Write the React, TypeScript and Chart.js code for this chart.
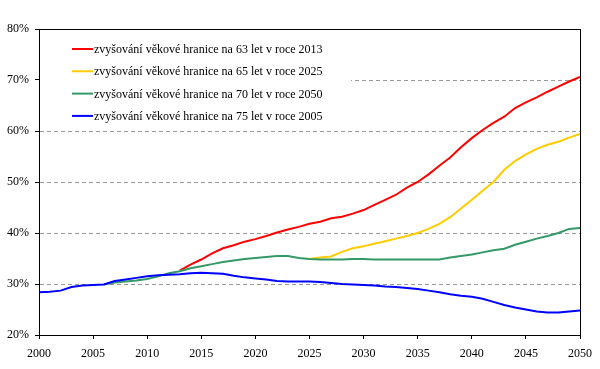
import React, { useEffect, useRef } from "react";
import { Chart, registerables } from "chart.js";

Chart.register(...registerables);

const years = [
  2000, 2001, 2002, 2003, 2004, 2005, 2006, 2007, 2008, 2009,
  2010, 2011, 2012, 2013, 2014, 2015, 2016, 2017, 2018, 2019,
  2020, 2021, 2022, 2023, 2024, 2025, 2026, 2027, 2028, 2029,
  2030, 2031, 2032, 2033, 2034, 2035, 2036, 2037, 2038, 2039,
  2040, 2041, 2042, 2043, 2044, 2045, 2046, 2047, 2048, 2049, 2050,
];

const seriesNames = [
  "zvyšování věkové hranice na 63 let v roce 2013",
  "zvyšování věkové hranice na 65 let v roce 2025",
  "zvyšování věkové hranice na 70 let v roce 2050",
  "zvyšování věkové hranice na 75 let v roce 2005",
];

const seriesColors = ["#FF0000", "#FFCC00", "#339966", "#0000FF"];

// red: age 63 by 2013 (starts 2013)
const red = [
  null, null, null, null, null, null, null, null, null, null,
  null, null, null, 32.6, 33.8, 34.8, 36.0, 37.0, 37.6, 38.3,
  38.8, 39.4, 40.1, 40.7, 41.2, 41.8, 42.2, 42.9, 43.2, 43.8,
  44.5, 45.5, 46.5, 47.5, 48.9, 50.0, 51.5, 53.2, 54.8, 56.8,
  58.6, 60.2, 61.6, 62.8, 64.5, 65.6, 66.6, 67.7, 68.7, 69.7, 70.6,
];

// yellow: age 65 by 2025 (starts 2025)
const yellow = [
  null, null, null, null, null, null, null, null, null, null,
  null, null, null, null, null, null, null, null, null, null,
  null, null, null, null, null, 34.9, 35.2, 35.4, 36.3, 37.0,
  37.4, 37.9, 38.4, 38.9, 39.4, 40.0, 40.8, 41.8, 43.1, 44.8,
  46.5, 48.3, 50.0, 52.4, 54.1, 55.4, 56.5, 57.3, 57.9, 58.7, 59.4,
];

// green: age 70 by 2050 (starts 2006)
const green = [
  null, null, null, null, null, null, 29.9, 30.3, 30.5, 30.7,
  31.0, 31.5, 32.1, 32.5, 33.1, 33.5, 33.9, 34.3, 34.6, 34.9,
  35.1, 35.3, 35.5, 35.5, 35.1, 34.9, 34.8, 34.8, 34.8, 34.9,
  34.9, 34.8, 34.8, 34.8, 34.8, 34.8, 34.8, 34.8, 35.2, 35.5,
  35.8, 36.2, 36.6, 36.9, 37.7, 38.3, 38.9, 39.4, 40.0, 40.8, 41.0,
];

// blue: age 75 by 2005
const blue = [
  28.4, 28.5, 28.7, 29.4, 29.7, 29.8, 29.9, 30.6, 30.9, 31.2,
  31.5, 31.7, 31.8, 31.9, 32.1, 32.2, 32.1, 32.0, 31.6, 31.3,
  31.1, 30.9, 30.6, 30.5, 30.5, 30.5, 30.4, 30.2, 30.0, 29.9,
  29.8, 29.7, 29.5, 29.4, 29.2, 29.0, 28.7, 28.4, 28.0, 27.7,
  27.5, 27.1, 26.5, 25.9, 25.4, 25.0, 24.6, 24.4, 24.4, 24.6, 24.8,
];

const seriesValues = [red, yellow, green, blue];

const yGridValues = [30, 40, 50, 60, 70];

const FONT = "'Liberation Serif', 'Times New Roman', serif";

const legendPlugin = {
  id: "customLegendFrame",
  beforeDatasetsDraw(chart: any) {
    const ctx = chart.ctx;
    const a = chart.chartArea;
    const ys = chart.scales.y;
    ctx.save();
    // dashed gridlines
    ctx.strokeStyle = "#999999";
    ctx.lineWidth = 1;
    ctx.setLineDash([4, 3]);
    for (const v of yGridValues) {
      const py = Math.round(ys.getPixelForValue(v)) + 0.5;
      ctx.beginPath();
      ctx.moveTo(a.left + 1, py);
      ctx.lineTo(a.right, py);
      ctx.stroke();
    }
    ctx.setLineDash([]);
    // legend background
    ctx.fillStyle = "#FFFFFF";
    ctx.fillRect(a.left + 1, a.top + 1, 311, 96);
    ctx.restore();
  },
  afterDraw(chart: any) {
    const ctx = chart.ctx;
    const a = chart.chartArea;
    ctx.save();
    // frame
    ctx.strokeStyle = "#000000";
    ctx.lineWidth = 1;
    ctx.setLineDash([]);
    ctx.strokeRect(
      Math.round(a.left) + 0.5,
      Math.round(a.top) + 0.5,
      Math.round(a.right - a.left),
      Math.round(a.bottom - a.top)
    );
    // legend
    const rowY = [49, 71.3, 93.6, 115.9];
    ctx.font = "12px " + FONT;
    ctx.textBaseline = "middle";
    ctx.textAlign = "left";
    for (let i = 0; i < seriesNames.length; i++) {
      const y = rowY[i];
      ctx.strokeStyle = seriesColors[i];
      ctx.lineWidth = 2;
      ctx.beginPath();
      ctx.moveTo(72, y);
      ctx.lineTo(93, y);
      ctx.stroke();
      ctx.fillStyle = "#000000";
      ctx.fillText(seriesNames[i], 94, y + 1);
    }
    ctx.restore();
  },
};

export default function App() {
  const ref = useRef<HTMLCanvasElement | null>(null);

  useEffect(() => {
    if (!ref.current) return;
    const datasets = seriesValues.map((vals, i) => ({
      label: seriesNames[i],
      data: years.map((yr, j) => ({ x: yr, y: vals[j] })),
      borderColor: seriesColors[i],
      backgroundColor: seriesColors[i],
      borderWidth: 2,
      pointRadius: 0,
      tension: 0,
      fill: false,
      spanGaps: false,
      order: 3 - i,
    }));
    const chart = new Chart(ref.current, {
      type: "line",
      data: { datasets },
      options: {
        animation: false,
        responsive: false,
        maintainAspectRatio: false,
        layout: { padding: { top: 29, right: 17, left: 0, bottom: 0 } },
        plugins: {
          legend: { display: false },
          tooltip: { enabled: false },
        },
        scales: {
          x: {
            type: "linear",
            min: 2000,
            max: 2050,
            afterFit: (scale: any) => {
              scale.height = 34;
            },
            ticks: {
              stepSize: 5,
              autoSkip: false,
              maxRotation: 0,
              padding: 8,
              color: "#000000",
              font: { family: FONT, size: 12 },
              callback: (v: any) => String(v),
            },
            grid: {
              drawOnChartArea: false,
              drawTicks: true,
              tickLength: 4,
              color: "#000000",
              tickColor: "#000000",
            },
            border: { display: false },
          },
          y: {
            min: 20,
            max: 80,
            afterFit: (scale: any) => {
              scale.width = 39;
            },
            ticks: {
              stepSize: 10,
              padding: 6,
              color: "#000000",
              font: { family: FONT, size: 12 },
              callback: (v: any) => v + "%",
            },
            grid: {
              drawOnChartArea: false,
              drawTicks: true,
              tickLength: 4,
              color: "#000000",
              tickColor: "#000000",
            },
            border: { display: false },
          },
        },
      },
      plugins: [legendPlugin],
    });
    return () => chart.destroy();
  }, []);

  return (
    <div style={{ position: "absolute", left: 0, top: 0, width: 600, height: 369 }}>
      <canvas ref={ref} width={600} height={369} style={{ width: 600, height: 369 }} />
    </div>
  );
}
